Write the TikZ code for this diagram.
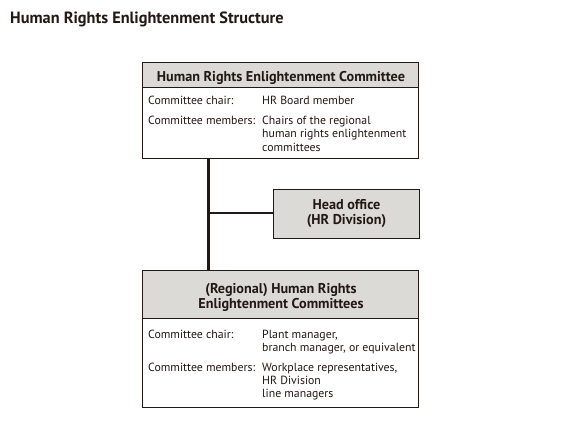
\documentclass[tikz,border=0pt]{standalone}
\usepackage{fontspec}
\setmainfont{PT Sans}
\definecolor{linec}{HTML}{231815}
\definecolor{hdrgray}{HTML}{DCDAD6}
\begin{document}
\begin{tikzpicture}[x=1pt,y=-1pt]
\tikzset{
  frame/.style={draw=linec, line width=1pt, fill=white, inner sep=0pt, outer sep=0pt, anchor=north west},
  hdr/.style={draw=linec, line width=1pt, fill=hdrgray, inner sep=0pt, outer sep=0pt, anchor=north west},
  conn/.style={draw=linec, line width=2.8pt},
  lbl/.style={anchor=base west, inner sep=0pt, text=linec, font=\fontsize{11.8}{13.3}\selectfont},
  htxt/.style={anchor=base, inner sep=0pt, text=linec, font=\bfseries\fontsize{14.2}{15}\selectfont},
  ttl/.style={anchor=base west, inner sep=0pt, text=linec, font=\bfseries\fontsize{16.3}{18}\selectfont}
}
\useasboundingbox (0,0) rectangle (580,427);
\fill[white] (0,0) rectangle (580,427);

% title
\node[ttl] (title) at (10,24) {Human Rights Enlightenment Structure};

% top committee box
\node[frame, minimum width=276pt, minimum height=96pt] (top) at (142.5,62.5) {};
\node[hdr, minimum width=276pt, minimum height=25.5pt] (tophdr) at (142.5,62.5) {};
\node[htxt] (toptitle) at (281,81.5) {Human Rights Enlightenment Committee};
\node[lbl] (tchair) at (148,104.5) {Committee chair:};
\node[lbl] (tchairv) at (262,104.5) {HR Board member};
\node[lbl] (tmem) at (148,124.5) {Committee members:};
\node[lbl] (tmemv1) at (262,124.5) {Chairs of the regional};
\node[lbl] (tmemv2) at (262,137.8) {human rights enlightenment};
\node[lbl] (tmemv3) at (262,151.1) {committees};

% head office box
\node[hdr, minimum width=146pt, minimum height=49pt] (head) at (273.5,189.5) {};
\node[htxt] (headt1) at (346.5,210) {Head office};
\node[htxt] (headt2) at (346.5,225) {(HR Division)};

% regional box
\node[frame, minimum width=276pt, minimum height=137pt] (bot) at (142.5,270.5) {};
\node[hdr, minimum width=276pt, minimum height=48pt] (bothdr) at (142.5,270.5) {};
\node[htxt] (bott1) at (281,294) {(Regional) Human Rights};
\node[htxt] (bott2) at (281,308.5) {Enlightenment Committees};
\node[lbl] (bchair) at (148,338) {Committee chair:};
\node[lbl] (bchairv1) at (262,338) {Plant manager,};
\node[lbl] (bchairv2) at (262,351.3) {branch manager, or equivalent};
\node[lbl] (bmem) at (148,371) {Committee members:};
\node[lbl] (bmemv1) at (262,371) {Workplace representatives,};
\node[lbl] (bmemv2) at (262,384.3) {HR Division};
\node[lbl] (bmemv3) at (262,397.6) {line managers};

% connectors
\coordinate (jx) at (208.5,213);
\draw[conn] (top.south -| jx) -- (bot.north -| jx);
\draw[conn] (jx) -- (jx -| head.west);
\end{tikzpicture}
\end{document}
